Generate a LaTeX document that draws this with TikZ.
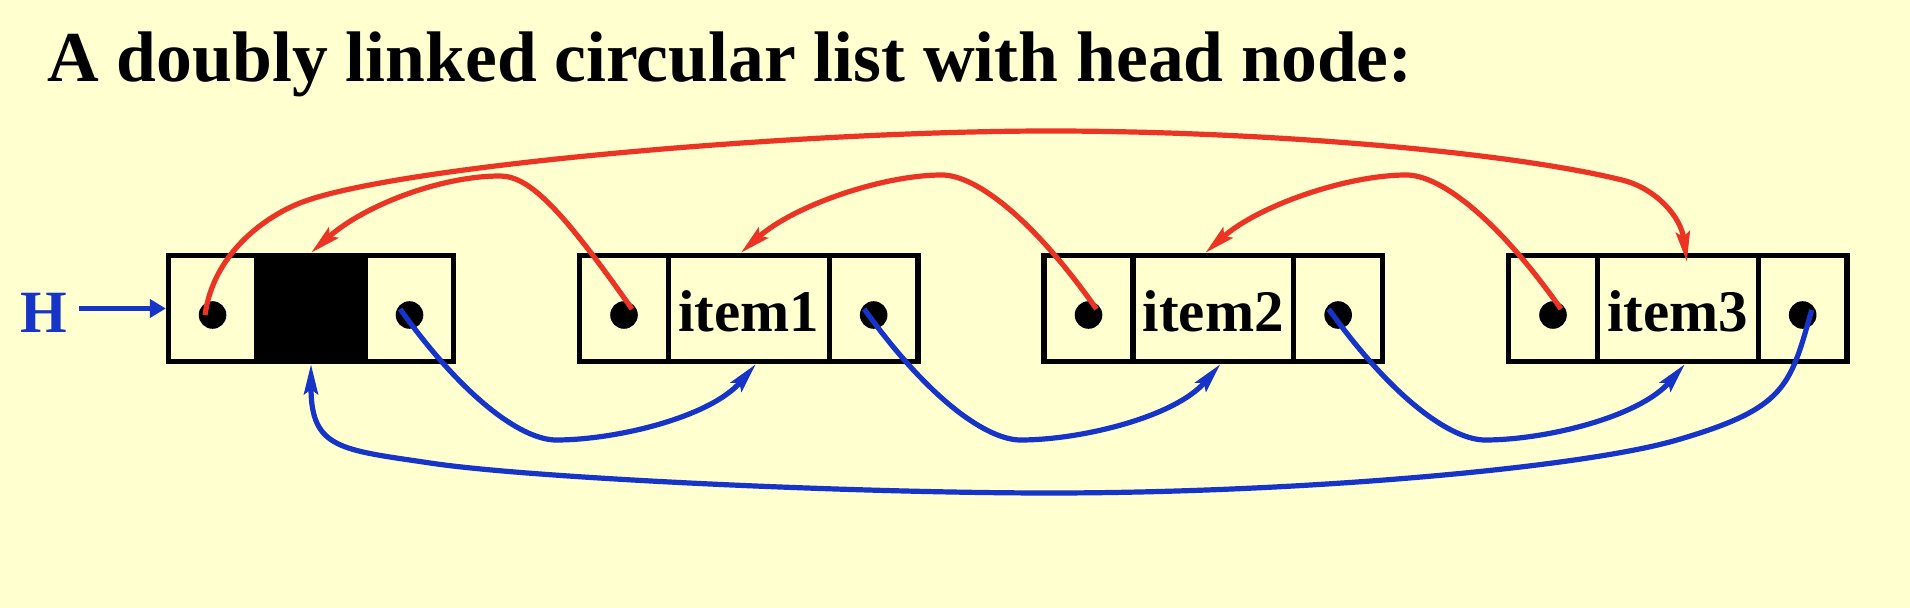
\documentclass[tikz,border=0pt]{standalone}
\usepackage{fontspec}
\setmainfont{Liberation Serif}
\usetikzlibrary{arrows.meta}
\definecolor{bg}{RGB}{255,255,208}
\definecolor{lred}{RGB}{235,52,36}
\definecolor{lblue}{RGB}{22,52,200}
\begin{document}
\begin{tikzpicture}[x=0.5pt,y=-0.5pt,
  cell/.style={draw=black, line width=2.65pt, inner sep=0pt, minimum height=53pt,
    text height=23pt, text depth=0pt, font=\fontsize{29.5pt}{32pt}\selectfont\bfseries},
  ptr/.style={circle, fill=black, inner sep=0pt, minimum size=13.8pt},
  redlink/.style={draw=lred, line width=2.6pt, -{Stealth[length=15pt,width=7pt,inset=2.5pt]}},
  bluelink/.style={draw=lblue, line width=2.6pt, -{Stealth[length=15pt,width=7pt,inset=2.5pt]}}
]
\fill[bg] (0,0) rectangle (1910,608);
\useasboundingbox (0,0) rectangle (1910,608);

\node[anchor=base west, inner sep=0pt, font=\fontsize{35.8pt}{40pt}\selectfont\bfseries] (title) at (47,81.7) {A doubly linked circular list with head node:};

% head node
\node[cell, minimum width=44.05pt] (h1) at (212.55,308.5) {};
\node[cell, fill=black, minimum width=54.4pt] (h2) at (311,308.5) {};
\node[cell, minimum width=44.1pt] (h3) at (409.5,308.5) {};
% item nodes
\node[cell, minimum width=44.5pt] (i1a) at (624,308.5) {};
\node[cell, minimum width=80.35pt] (i1b) at (748.85,308.5) {item1};
\node[cell, minimum width=44.4pt] (i1c) at (873.65,308.5) {};
\node[cell, minimum width=44.5pt] (i2a) at (1088.5,308.5) {};
\node[cell, minimum width=80.35pt] (i2b) at (1213.35,308.5) {item2};
\node[cell, minimum width=44.4pt] (i2c) at (1338.15,308.5) {};
\node[cell, minimum width=44.5pt] (i3a) at (1553,308.5) {};
\node[cell, minimum width=80.35pt] (i3b) at (1677.85,308.5) {item3};
\node[cell, minimum width=44.4pt] (i3c) at (1802.65,308.5) {};

% pointer dots
\node[ptr] (ph1) at (212.55,315) {};
\node[ptr] (ph3) at (409.5,315) {};
\node[ptr] (p1a) at (624,315) {};
\node[ptr] (p1c) at (873.65,315) {};
\node[ptr] (p2a) at (1088.5,315) {};
\node[ptr] (p2c) at (1338.15,315) {};
\node[ptr] (p3a) at (1553,315) {};
\node[ptr] (p3c) at (1802.65,315) {};

% head pointer
\node[anchor=base, inner xsep=5.6pt, inner ysep=0pt, text=lblue, font=\fontsize{30pt}{32pt}\selectfont\bfseries] (H) at (44.3,332.3) {H};
\draw[lblue, line width=2.85pt, -{Triangle[length=8pt,width=9pt]}] (H.east |- h1.west) -- (h1.west);

% next links (blue)
\draw[bluelink] ([shift={(-9.5,-6)}]ph3.center) .. controls +(69.6,97) and +(-30,0) .. (556,440) .. controls +(60,0) and +(-45.5,53) .. ([xshift=3.5pt]i1b.south);
\draw[bluelink] ([shift={(-9.5,-6)}]p1c.center) .. controls +(69.6,97) and +(-30,0) .. (1020.5,440) .. controls +(60,0) and +(-45.5,53) .. ([xshift=3.5pt]i2b.south);
\draw[bluelink] ([shift={(-9.5,-6)}]p2c.center) .. controls +(69.6,97) and +(-30,0) .. (1485,440) .. controls +(60,0) and +(-45.5,53) .. ([xshift=3.5pt]i3b.south);
\draw[bluelink] ([shift={(9,-5)}]p3c.center) .. controls +(-21.7,77) and +(108.7,-31.7) .. (1677,440) .. controls +(-96,28) and +(250,0) .. (1050,493) .. controls +(-200,0) and +(99,15) .. (430,463) .. controls +(-89,-13.3) and +(0,85) .. (h2.south);

% prev links (red)
\draw[redlink] ([shift={(8,-6)}]p1a.center) .. controls +(-69.6,-98.4) and +(30,0) .. (500,176) .. controls +(-60,0) and +(52.5,-47) .. (h2.north);
\draw[redlink] ([shift={(8,-6)}]p2a.center) .. controls +(-69.6,-98.4) and +(30,0) .. (942,175) .. controls +(-60,0) and +(52.5,-47) .. ([xshift=-4pt]i1b.north);
\draw[redlink] ([shift={(8,-6)}]p3a.center) .. controls +(-69.6,-98.4) and +(30,0) .. (1406.5,175) .. controls +(-60,0) and +(52.5,-47) .. ([xshift=-4pt]i2b.north);
\draw[redlink] ([shift={(-7.5,0)}]ph1.center) .. controls +(8,-60) and +(-37.2,14.8) .. (300,203) .. controls +(93,-37) and +(-250,0) .. (1050,131) .. controls +(200,0) and +(-122,-30) .. (1622,180) .. controls +(34,8.4) and +(-6,-45) .. ([shift={(9,9)}]i3b.north);
\end{tikzpicture}
\end{document}
